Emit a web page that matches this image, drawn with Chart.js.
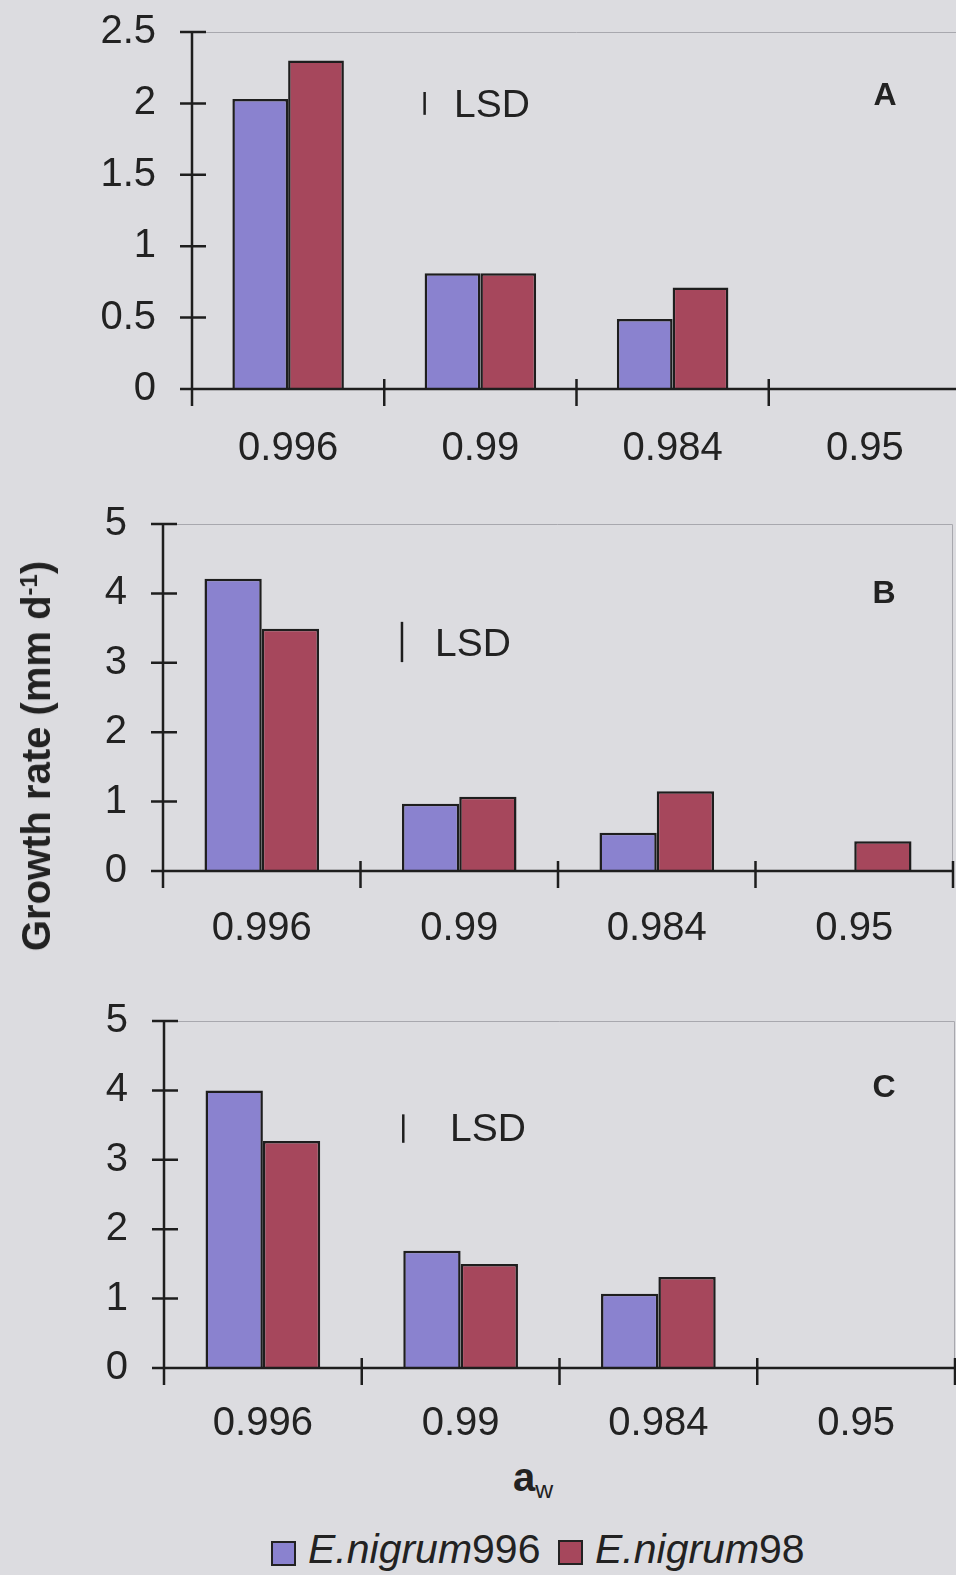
<!DOCTYPE html>
<html>
<head>
<meta charset="utf-8">
<script src="https://cdn.jsdelivr.net/npm/chart.js@4.4.0/dist/chart.umd.min.js"></script>
<style>
  html, body { margin: 0; padding: 0; }
  body {
    width: 956px; height: 1575px; overflow: hidden; position: relative;
    background: #dcdce0; color: #222;
    font-family: "Liberation Sans", Arial, sans-serif;
  }
  canvas { position: absolute; left: 0; }
  .txt { position: absolute; line-height: 1; white-space: nowrap; }
  .panel { font-weight: bold; font-size: 32px; transform: translate(-50%, -50%); }
  .lsd { font-size: 39px; transform: translateY(-50%); }
  .ytitle {
    font-weight: bold; font-size: 40px;
    transform: translate(-50%, -50%) rotate(-90deg);
  }
  .ytitle sup { font-size: 0.6em; position: relative; top: -0.55em; vertical-align: baseline; }
  .xtitle { font-weight: bold; font-size: 40px; }
  .xtitle sub { font-weight: normal; font-size: 0.62em; position: relative; top: 0.3em; vertical-align: baseline; }
  .legbox { position: absolute; width: 21px; height: 21px; border: 2px solid #222; }
  .legtxt { font-size: 41px; }
  .legtxt i { font-style: italic; }
</style>
</head>
<body>
<canvas id="chartA" width="980" height="469" style="top:0px"></canvas>
<canvas id="chartB" width="980" height="459" style="top:492px"></canvas>
<canvas id="chartC" width="980" height="459" style="top:989px"></canvas>

<div class="txt panel" style="left:885px; top:94px">A</div>
<div class="txt panel" style="left:884px; top:592px">B</div>
<div class="txt panel" style="left:884px; top:1086px">C</div>

<div class="txt lsd" style="left:454px; top:103px">LSD</div>
<div class="txt lsd" style="left:435px; top:642px">LSD</div>
<div class="txt lsd" style="left:450px; top:1127px">LSD</div>

<div class="txt ytitle" style="left:36px; top:756px">Growth rate (mm d<sup>-1</sup>)</div>
<div class="txt xtitle" style="left:513px; top:1457px">a<sub>w</sub></div>

<div class="legbox" style="left:271px; top:1541px; background:#8a82cf"></div>
<div class="txt legtxt" style="left:308px; top:1529px"><i>E.nigrum</i>996</div>
<div class="legbox" style="left:558px; top:1540px; background:#a6475c"></div>
<div class="txt legtxt" style="left:595px; top:1529px"><i>E.nigrum</i>98</div>

<script>
const categories = ['0.996', '0.99', '0.984', '0.95'];
const seriesNames = ['E.nigrum996', 'E.nigrum98'];

// growth rate (mm/d)
const panelA996 = [2.03, 0.81, 0.49, null];
const panelA98 = [2.30, 0.81, 0.71, null];
const panelB996 = [4.21, 0.97, 0.55, null];
const panelB98 = [3.49, 1.07, 1.15, 0.43];
const panelC996 = [4.00, 1.69, 1.07, null];
const panelC98 = [3.27, 1.50, 1.31, null];

const yMaxes = [2.5, 5, 5];
const ySteps = [0.5, 1, 1];

// LSD bar: length, middle value and position along the category axis
const lsdLength = [0.16, 0.58, 0.41];
const lsdMiddle = [2.0, 3.3, 3.45];
const lsdPosition = 0.71;

const blueFill = '#8a82cf';
const redFill = '#a6475c';
const inkColor = '#1e1e1e';
const fontFamily = '"Liberation Sans", Arial, sans-serif';

// axis lines, crossing tick marks, grey plot frame and the LSD bar
const framePlugin = {
    id: 'frame',
    afterDatasetsDraw(chart, args, opts) {
        const ctx = chart.ctx;
        const a = chart.chartArea;
        const x = chart.scales.x;
        const y = chart.scales.y;
        ctx.save();

        ctx.strokeStyle = '#a8a8ae';
        ctx.lineWidth = 1;
        ctx.beginPath();
        ctx.moveTo(a.left, a.top + 0.5);
        ctx.lineTo(a.right - 0.5, a.top + 0.5);
        ctx.lineTo(a.right - 0.5, a.bottom);
        ctx.stroke();

        ctx.strokeStyle = inkColor;
        ctx.lineWidth = 2.5;
        ctx.beginPath();
        ctx.moveTo(a.left, a.top);
        ctx.lineTo(a.left, a.bottom);
        ctx.moveTo(a.left, a.bottom);
        ctx.lineTo(a.right, a.bottom);
        y.ticks.forEach(t => {
            const py = y.getPixelForValue(t.value);
            ctx.moveTo(a.left - 12, py);
            ctx.lineTo(a.left + 14, py);
        });
        for (let i = 0; i <= categories.length; i++) {
            const px = x.getPixelForValue(i - 0.5);
            ctx.moveTo(px, a.bottom - 10);
            ctx.lineTo(px, a.bottom + 17);
        }
        ctx.stroke();

        const lx = x.getPixelForValue(lsdPosition);
        ctx.lineWidth = 2.5;
        ctx.beginPath();
        ctx.moveTo(lx, y.getPixelForValue(opts.mid - opts.len / 2));
        ctx.lineTo(lx, y.getPixelForValue(opts.mid + opts.len / 2));
        ctx.stroke();

        ctx.restore();
    }
};

function makePanel(id, data996, data98, idx, axisLeft, padRight, labelPad) {
    const barStyle = {
        borderColor: inkColor,
        borderWidth: 2.5,
        categoryPercentage: 0.58,
        barPercentage: 1.0
    };
    return new Chart(document.getElementById(id), {
        type: 'bar',
        data: {
            labels: categories,
            datasets: [
                Object.assign({ label: seriesNames[0], data: data996, backgroundColor: blueFill }, barStyle),
                Object.assign({ label: seriesNames[1], data: data98, backgroundColor: redFill }, barStyle)
            ]
        },
        options: {
            responsive: false,
            animation: false,
            layout: { padding: { top: 32, right: padRight, bottom: 0, left: 0 } },
            plugins: {
                legend: { display: false },
                tooltip: { enabled: false },
                frame: { len: lsdLength[idx], mid: lsdMiddle[idx] }
            },
            scales: {
                x: {
                    grid: { display: false, drawTicks: false },
                    border: { display: false },
                    ticks: {
                        color: '#222',
                        font: { family: fontFamily, size: 40 },
                        padding: labelPad,
                        maxRotation: 0,
                        autoSkip: false
                    },
                    afterFit: (scale) => { scale.height = 80; }
                },
                y: {
                    min: 0,
                    max: yMaxes[idx],
                    grid: { display: false, drawTicks: false },
                    border: { display: false },
                    ticks: {
                        stepSize: ySteps[idx],
                        color: '#222',
                        font: { family: fontFamily, size: 40 },
                        padding: 36,
                        callback: (value) => value.toString()
                    },
                    afterFit: (scale) => {
                        scale.width = axisLeft;
                        // the top label fits in the layout padding already
                        scale.paddingTop = 0;
                        scale.paddingBottom = 0;
                    }
                }
            }
        },
        plugins: [framePlugin]
    });
}

makePanel('chartA', panelA996, panelA98, 0, 192, 19, 36);
makePanel('chartB', panelB996, panelB98, 1, 163, 27, 34);
makePanel('chartC', panelC996, panelC98, 2, 164, 25, 32);
</script>
</body>
</html>
